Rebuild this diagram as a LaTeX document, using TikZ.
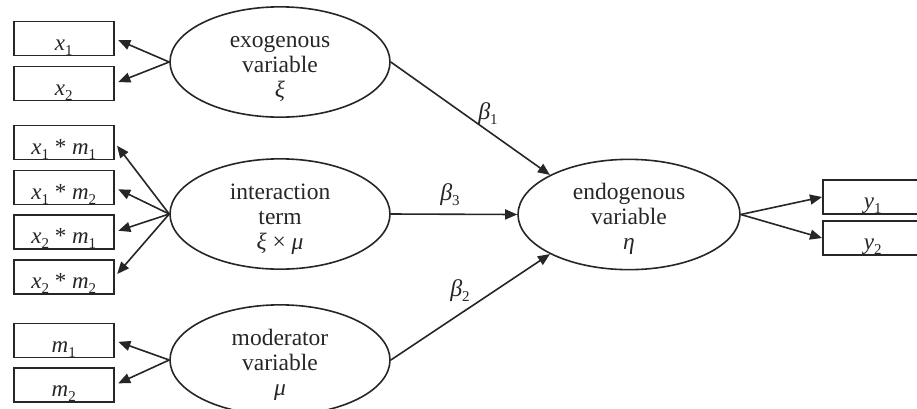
\documentclass[tikz,border=0pt]{standalone}
\usepackage{fontspec}
\setmainfont{Liberation Serif}
\usetikzlibrary{arrows.meta,shapes.geometric}
\definecolor{ink}{HTML}{262626}
% italic symbol with a small, low subscript
\newcommand\iv[2]{\textit{#1}\raisebox{-5pt}{\fontsize{15}{15}\selectfont #2}}
\tikzset{
  obs/.style={draw=ink, line width=1.6pt, minimum width=100pt, minimum height=34pt,
              inner sep=0pt, anchor=west, text height=24pt, text depth=1pt,
              font=\fontsize{23}{25}\selectfont},
  latent/.style={draw=ink, line width=1.6pt, ellipse, minimum width=220pt, minimum height=97pt,
              inner sep=0pt, align=center, text height=74pt, text depth=4pt,
              font=\fontsize{23.5}{25}\selectfont},
  path/.style={draw=ink, line width=1.6pt, -{Triangle[length=12pt,width=10pt]}},
  load/.style={path, shorten >=4pt},
  coef/.style={font=\fontsize{24}{25}\selectfont, inner sep=0pt}
}
\begin{document}
\begin{tikzpicture}[x=1pt,y=-1pt,text=ink]
\useasboundingbox (0,0) rectangle (917,408);

% indicator boxes
\node[obs] (x1)   at (13,38.5)  {\iv{x}{1}};
\node[obs] (x2)   at (13,83.5)  {\iv{x}{2}};
\node[obs] (x1m1) at (13,142.5) {\iv{x}{1} * \iv{m}{1}};
\node[obs] (x1m2) at (13,187.5) {\iv{x}{1} * \iv{m}{2}};
\node[obs] (x2m1) at (13,232)   {\iv{x}{2} * \iv{m}{1}};
\node[obs] (x2m2) at (13,277)   {\iv{x}{2} * \iv{m}{2}};
\node[obs] (m1)   at (13,340.5) {\iv{m}{1}};
\node[obs] (m2)   at (13,385)   {\iv{m}{2}};
\node[obs] (y1)   at (822,197)  {\iv{y}{1}};
\node[obs] (y2)   at (822,238)  {\iv{y}{2}};

% latent variables
\node[latent] (exo)  at (280,62)    {exogenous\\variable\\\textit{ξ}};
\node[latent] (int)  at (280,214)   {interaction\\term\\\textit{ξ} × \textit{μ}};
\node[latent] (mod)  at (280,360)   {moderator\\variable\\\textit{μ}};
\node[latent, minimum width=222pt, minimum height=99pt] (endo) at (629,214.5) {endogenous\\variable\\\textit{η}};

% measurement paths
\foreach \b in {x1,x2} \draw[load] (exo.west) -- (\b.east);
\foreach \b in {x1m1,x1m2,x2m1,x2m2} \draw[load] (int.west) -- (\b.east);
\foreach \b in {m1,m2} \draw[load] (mod.west) -- (\b.east);
\foreach \b in {y1,y2} \draw[path] (endo.east) -- (\b.west);

% structural paths
\draw[path] (exo.east) -- (endo.north west);
\draw[path] (int.east) -- (endo.west);
\draw[path] (mod.east) -- (endo.south west);

\node[coef] (b1) at (488,114) {\iv{β}{1}};
\node[coef] (b3) at (450,195) {\iv{β}{3}};
\node[coef] (b2) at (460,291) {\iv{β}{2}};
\end{tikzpicture}
\end{document}
